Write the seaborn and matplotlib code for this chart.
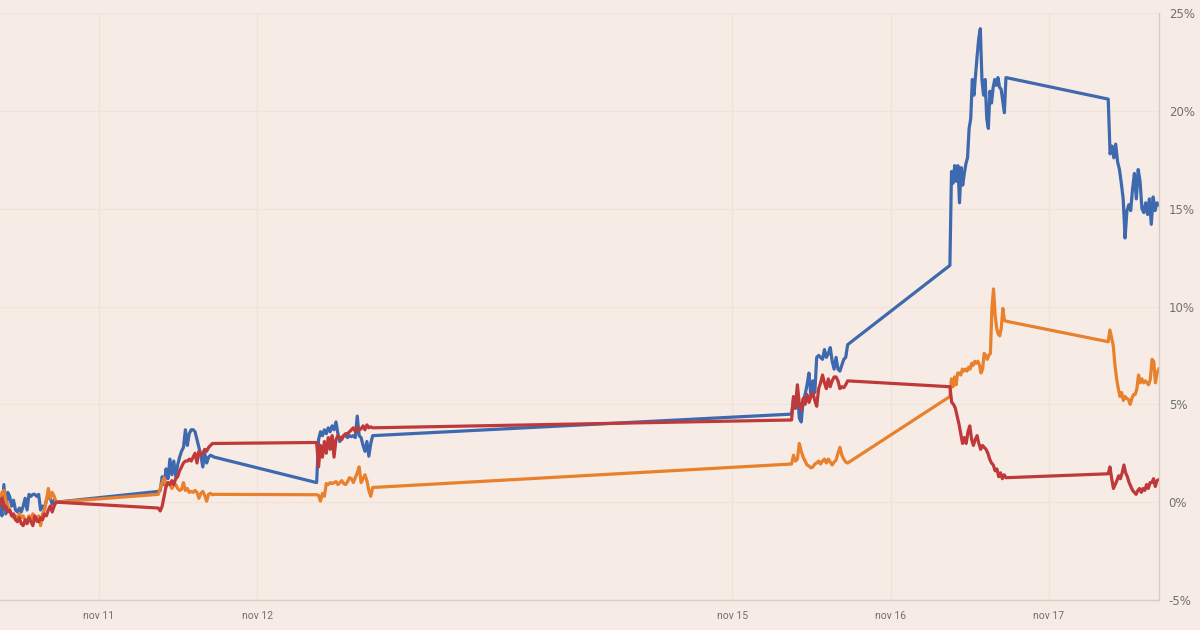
import matplotlib
matplotlib.use("Agg")
import matplotlib.pyplot as plt
import pandas as pd
import seaborn as sns

# ---- data -----------------------------------------------------------------
series_names = ["blauw", "oranje", "rood"]
series_colors = ["#3e69ae", "#e8802c", "#c0393a"]

sessions = [
    ("2021-11-10 09:00", "2021-11-10 17:30"),
    ("2021-11-11 09:00", "2021-11-11 17:30"),
    ("2021-11-12 09:00", "2021-11-12 17:30"),
    ("2021-11-15 09:00", "2021-11-15 17:30"),
    ("2021-11-16 09:00", "2021-11-16 17:30"),
    ("2021-11-17 09:00", "2021-11-17 16:40"),
]

blue_nov10 = [0.0, -0.7, 0.9, -0.6, 0.5, 0.3, -0.2, 0.1, -0.4, -0.5, -0.3, -0.5, -0.2, 0.2, -0.4,
              0.4, 0.3, 0.4, 0.4, 0.3, 0.4, -0.4, -0.2, -0.3, 0.1, 0.3, 0.2, -0.1, 0.1, 0.0]
orange_nov10 = [0.1, 0.5, 0.6, 0.1, -0.2, -0.4, -0.6, -0.8, -0.7, -0.9, -0.6, -0.8, -0.7, -0.9, -1.0,
                -0.7, -0.9, -0.6, -0.8, -1.0, -0.7, -1.2, -0.6, -0.4, 0.1, 0.7, 0.2, 0.5, 0.3, 0.0]
red_nov10 = [-0.1, 0.2, -0.3, -0.2, -0.5, -0.4, -0.7, -0.6, -0.9, -1.0, -0.8, -1.1, -1.2, -0.9, -1.1,
             -0.8, -1.0, -1.2, -0.7, -0.9, -1.0, -0.8, -0.9, -0.6, -0.7, -0.4, -0.2, -0.5, -0.2, 0.0]

blue_nov11 = [0.55, 0.6, 1.3, 0.9, 1.7, 1.2, 2.2, 1.4, 2.1, 1.3, 1.9, 2.3, 2.6, 2.8, 3.7,
              2.9, 3.5, 3.7, 3.7, 3.6, 3.2, 2.8, 2.4, 1.8, 2.5, 2.0, 2.3, 2.4, 2.35, 2.3]
orange_nov11 = [0.4, 0.7, 1.0, 1.25, 0.8, 1.0, 0.9, 0.7, 0.85, 0.9, 0.7, 0.6, 0.65, 1.0, 0.6,
                0.7, 0.5, 0.55, 0.5, 0.6, 0.5, 0.2, 0.45, 0.55, 0.35, 0.05, 0.4, 0.45, 0.38, 0.4]
red_nov11 = [-0.3, -0.45, -0.2, 0.3, 0.8, 1.0, 0.9, 1.1, 0.9, 1.2, 1.3, 1.6, 1.8, 2.0, 2.1,
             2.1, 2.2, 2.1, 2.3, 2.5, 2.0, 2.6, 2.4, 2.5, 2.7, 2.6, 2.8, 2.9, 3.0, 3.0]

blue_nov12 = [1.0, 3.2, 3.6, 3.4, 3.7, 3.5, 3.8, 3.6, 3.9, 3.7, 4.1, 3.5, 3.1, 3.3, 3.4,
              3.4, 3.3, 3.4, 3.35, 3.4, 3.3, 4.4, 3.4, 3.3, 2.9, 2.6, 3.1, 2.35, 3.0, 3.4]
orange_nov12 = [0.38, 0.35, 0.05, 0.45, 0.3, 0.95, 0.9, 1.0, 0.95, 1.0, 1.05, 0.9, 1.0, 1.1, 0.95,
                0.9, 1.05, 1.25, 1.2, 1.0, 1.25, 1.5, 1.8, 1.0, 1.2, 1.4, 1.1, 0.6, 0.3, 0.75]
red_nov12 = [3.05, 1.8, 2.9, 2.3, 3.1, 2.5, 3.3, 2.7, 3.4, 2.3, 3.2, 3.4, 3.3, 3.2, 3.4,
             3.5, 3.5, 3.6, 3.7, 3.8, 3.6, 3.8, 3.7, 3.75, 3.9, 3.7, 3.95, 3.8, 3.85, 3.8]

blue_nov15 = [4.5, 5.3, 4.8, 5.7, 4.3, 4.1, 5.2, 5.5, 6.0, 6.6, 5.4, 6.2, 5.6, 7.4, 7.5,
              7.4, 7.3, 7.8, 7.4, 7.6, 7.9, 7.2, 6.8, 7.4, 6.8, 6.7, 7.0, 7.3, 7.4, 8.05]
orange_nov15 = [1.95, 2.4, 2.1, 2.2, 3.0, 2.6, 2.3, 2.1, 1.9, 1.85, 1.75, 1.8, 1.95, 2.0, 2.1,
                1.95, 2.1, 2.2, 2.0, 2.2, 2.05, 1.9, 2.05, 2.15, 2.5, 2.8, 2.4, 2.2, 2.05, 2.0]
red_nov15 = [4.2, 5.4, 4.8, 6.0, 5.0, 4.7, 5.3, 5.0, 5.5, 5.1, 5.4, 5.6, 5.2, 4.9, 5.8,
             6.1, 6.5, 6.1, 5.8, 6.3, 5.9, 6.2, 6.4, 6.4, 6.2, 5.8, 5.9, 5.85, 6.0, 6.2]

blue_nov16 = [12.1, 16.9, 16.3, 17.2, 16.4, 17.2, 15.3, 17.1, 16.2, 16.8, 17.3, 17.6, 19.1, 19.6,
              21.6, 20.8, 21.8, 22.8, 23.7, 24.2, 21.6, 20.8, 21.6, 19.6, 19.1, 21.0, 20.4, 21.2,
              21.6, 21.3, 21.7, 21.2, 21.1, 20.5, 19.9, 21.7]
orange_nov16 = [5.4, 6.3, 5.9, 6.4, 6.0, 6.6, 6.6, 6.5, 6.8, 6.7, 6.8, 6.7, 6.9, 6.8, 7.1,
                7.0, 7.2, 7.1, 7.2, 7.0, 6.6, 6.8, 7.6, 7.5, 7.3, 7.5, 7.6, 9.9, 10.9, 9.6,
                8.9, 8.6, 8.5, 8.9, 9.9, 9.3, 9.25]
red_nov16 = [5.9, 5.1, 5.0, 4.8, 4.4, 4.0, 3.5, 3.0, 3.3, 3.0, 3.6, 3.9, 3.2, 2.9, 3.2, 3.4,
             3.0, 2.7, 2.9, 2.8, 2.7, 2.5, 2.2, 2.0, 1.9, 1.6, 1.7, 1.3, 1.5, 1.2, 1.4, 1.25]

blue_nov17 = [20.6, 17.8, 18.2, 17.6, 18.3, 17.4, 17.0, 16.3, 15.5, 13.5, 14.9, 15.2, 14.9, 16.0,
              16.8, 15.5, 17.0, 16.4, 15.0, 14.8, 15.3, 14.7, 15.5, 14.2, 15.6, 14.9, 15.3, 15.2]
orange_nov17 = [8.2, 8.8, 8.4, 8.0, 7.0, 6.3, 5.8, 5.4, 5.6, 5.2, 5.4, 5.3, 5.25, 5.0, 5.3,
                5.5, 5.5, 5.8, 6.5, 6.1, 6.3, 6.1, 6.2, 6.1, 6.0, 6.3, 7.3, 7.2, 6.1, 6.6, 6.8]
red_nov17 = [1.45, 1.8, 1.2, 0.7, 0.9, 1.1, 1.35, 1.2, 1.5, 1.9, 1.5, 1.3, 1.0, 0.8, 0.6,
             0.5, 0.4, 0.6, 0.7, 0.5, 0.7, 0.6, 0.9, 0.7, 1.0, 1.0, 1.2, 0.8, 1.1, 1.15]

blue_days = [blue_nov10, blue_nov11, blue_nov12, blue_nov15, blue_nov16, blue_nov17]
orange_days = [orange_nov10, orange_nov11, orange_nov12, orange_nov15, orange_nov16, orange_nov17]
red_days = [red_nov10, red_nov11, red_nov12, red_nov15, red_nov16, red_nov17]

tick_dates = ["2021-11-11", "2021-11-12", "2021-11-15", "2021-11-16", "2021-11-17"]
tick_labels = ["nov 11", "nov 12", "nov 15", "nov 16", "nov 17"]
y_ticks = [-5, 0, 5, 10, 15, 20, 25]

# ---- build table ----------------------------------------------------------
rows = []
for name, days in zip(series_names, [blue_days, orange_days, red_days]):
    for (start, end), vals in zip(sessions, days):
        times = pd.date_range(start, end, periods=len(vals))
        for t, v in zip(times, vals):
            rows.append({"time": t, "value": v, "series": name})
df = pd.DataFrame(rows)

# ---- plot -----------------------------------------------------------------
bg = "#f6ebe5"
grid_c = "#f1e3da"
spine_c = "#d9ccc5"
text_c = "#707070"

fig = plt.figure(figsize=(12, 6.3), dpi=100, facecolor=bg)
ax = fig.add_axes([0, 30 / 630, 1159 / 1200, 587 / 630])
ax.set_facecolor(bg)

sns.lineplot(data=df, x="time", y="value", hue="series", hue_order=series_names,
             palette=series_colors, linewidth=2.3, legend=False, estimator=None,
             ax=ax)

ax.set_xlim(pd.Timestamp("2021-11-10 09:00"), pd.Timestamp("2021-11-17 16:42"))
ax.set_ylim(-5, 25)
ax.set_xticks([pd.Timestamp(d) for d in tick_dates])
ax.set_xticklabels(tick_labels, fontfamily="Roboto", fontsize=7.5, color=text_c)
ax.set_yticks(y_ticks)
ax.set_yticklabels([f"{v}%" for v in y_ticks], fontfamily="DejaVu Sans",
                   fontsize=8.5, color=text_c)
ax.yaxis.tick_right()
ax.tick_params(axis="y", length=0, pad=7)
ax.tick_params(axis="x", length=0, pad=8)
ax.set_xlabel("")
ax.set_ylabel("")

ax.grid(True, color=grid_c, linewidth=1)
ax.set_axisbelow(True)
for s in ["top", "left"]:
    ax.spines[s].set_visible(False)
for s in ["bottom", "right"]:
    ax.spines[s].set_color(spine_c)
    ax.spines[s].set_linewidth(1)

fig.savefig("out.png", dpi=100, facecolor=bg)
